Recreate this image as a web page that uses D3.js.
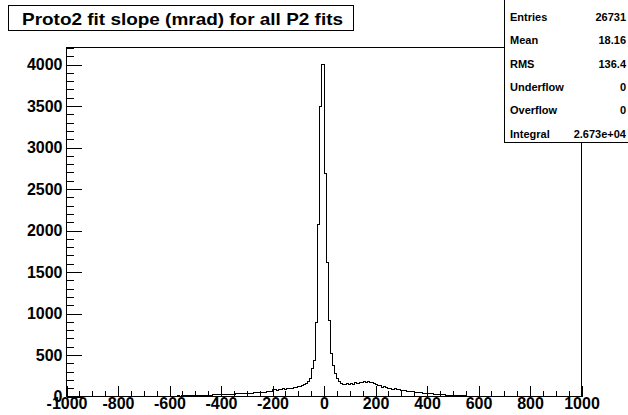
<!DOCTYPE html>
<html>
<head>
<meta charset="utf-8">
<script src="https://cdn.jsdelivr.net/npm/d3@7"></script>
<style>
    html, body { margin: 0; padding: 0; background: #fff; }
    svg { display: block; }
    text { font-family: "Liberation Sans", Arial, Helvetica, sans-serif; font-weight: bold; fill: #000; }
</style>
</head>
<body>
<svg id="main-svg" width="628" height="415"></svg>
<script>
// histogram binning: 250 bins of 8 mrad between -1000 and 1000
let BIN_LOW = -1000;
let BIN_WIDTH = 8;

// bin contents, 10 bins per line (8 mrad each)
let binCounts = [
    0, 0, 1, 0, 0, 0, 1, 0, 0, 1,             // -1000 .. -920
    0, 1, 0, 0, 1, 0, 0, 1, 0, 1,             // -920 .. -840
    1, 0, 1, 1, 0, 1, 2, 0, 1, 1,             // -840 .. -760
    2, 1, 1, 2, 1, 2, 1, 3, 2, 2,             // -760 .. -680
    2, 3, 2, 3, 4, 3, 3, 4, 5, 4,             // -680 .. -600
    5, 4, 6, 5, 7, 6, 8, 7, 9, 8,             // -600 .. -520
    10, 9, 11, 12, 11, 13, 14, 16, 15, 17,    // -520 .. -440
    18, 20, 19, 22, 21, 24, 26, 25, 28, 27,   // -440 .. -360
    30, 29, 32, 34, 33, 36, 35, 38, 40, 39,   // -360 .. -280
    42, 45, 44, 48, 50, 49, 53, 56, 55, 60,   // -280 .. -200
    80, 82, 78, 84, 86, 92, 90, 96, 94, 100,  // -200 .. -120
    104, 110, 116, 124, 132, 145, 160, 185, 215, 337,     // -120 .. -40
    434, 895, 2072, 3494, 4005, 2687, 1618, 915, 518, 373, // -40 .. 40
    277, 217, 185, 160, 150, 146, 158, 150, 156, 148,     // 40 .. 120
    164, 160, 172, 168, 180, 172, 178, 166, 170, 152,     // 120 .. 200
    140, 128, 130, 114, 116, 104, 98, 94, 90, 92,         // 200 .. 280
    84, 80, 76, 72, 70, 66, 62, 60, 56, 54,   // 280 .. 360
    50, 48, 46, 42, 40, 38, 35, 33, 30, 28,   // 360 .. 440
    26, 24, 22, 19, 18, 16, 14, 12, 11, 10,   // 440 .. 520
    9, 8, 8, 7, 6, 6, 5, 5, 4, 4,             // 520 .. 600
    4, 3, 3, 4, 3, 2, 3, 2, 2, 3,             // 600 .. 680
    2, 2, 1, 2, 1, 2, 1, 1, 2, 1,             // 680 .. 760
    1, 1, 0, 1, 1, 0, 1, 1, 0, 1,             // 760 .. 840
    0, 1, 0, 1, 0, 0, 1, 0, 0, 1,             // 840 .. 920
    0, 0, 1, 0, 0, 0, 1, 0, 0, 0              // 920 .. 1000
];

let xMajorTicks = [-1000, -800, -600, -400, -200, 0, 200, 400, 600, 800, 1000];
let xMinorTicks = d3.range(-1000, 1001, 50);
let yMajorTicks = [0, 500, 1000, 1500, 2000, 2500, 3000, 3500, 4000];
let yMinorTicks = d3.range(0, 4201, 100);

let TITLE = 'Proto2 fit slope (mrad) for all P2 fits';
let statLabels = ['Entries', 'Mean', 'RMS', 'Underflow', 'Overflow', 'Integral'];
let statValues = ['26731', '18.16', '136.4', '0', '0', '2.673e+04'];

let FRAME = { left: 66, right: 581, top: 47, bottom: 396 };
let LABEL_SIZE = 16;

let svg = d3.select('#main-svg');

let x = d3.scaleLinear().domain([-1000, 1000]).range([FRAME.left, FRAME.right]);
let y = d3.scaleLinear().domain([0, 4205]).range([FRAME.bottom, FRAME.top]);

// plain integer labels with an ascii hyphen, like ROOT
let plain = d => String(d);

// histogram outline as a step path
let path = d3.path();
binCounts.forEach((c, i) => {
    let x0 = Math.round(x(BIN_LOW + i * BIN_WIDTH)) + 0.5;
    let x1 = Math.round(x(BIN_LOW + (i + 1) * BIN_WIDTH)) + 0.5;
    let yy = Math.round(y(c)) + 0.5;
    if (i === 0) path.moveTo(x0, yy); else path.lineTo(x0, yy);
    path.lineTo(x1, yy);
});
svg.append('path')
    .attr('d', path.toString())
    .attr('fill', 'none')
    .attr('stroke', '#000')
    .attr('stroke-width', 1)
    .attr('shape-rendering', 'crispEdges');

// x axis: minor ticks then major ticks with labels
let xMinor = d3.axisBottom(x).tickValues(xMinorTicks).tickSize(-5.5).tickSizeOuter(0).tickFormat('');
let xMajor = d3.axisBottom(x).tickValues(xMajorTicks).tickSize(-10.5).tickSizeOuter(0).tickPadding(1).tickFormat(plain);
let xg1 = svg.append('g').attr('transform', `translate(0.5,${FRAME.bottom + 0.5})`).call(xMinor);
let xg2 = svg.append('g').attr('transform', `translate(0.5,${FRAME.bottom + 0.5})`).call(xMajor);

// y axis
let yMinor = d3.axisLeft(y).tickValues(yMinorTicks).tickSize(-7.5).tickSizeOuter(0).tickFormat('');
let yMajor = d3.axisLeft(y).tickValues(yMajorTicks).tickSize(-15).tickSizeOuter(0).tickPadding(4).tickFormat(plain);
let yg1 = svg.append('g').attr('transform', `translate(${FRAME.left + 0.5},0.5)`).call(yMinor);
let yg2 = svg.append('g').attr('transform', `translate(${FRAME.left + 0.5},0.5)`).call(yMajor);

[xg1, xg2, yg1, yg2].forEach(g => {
    g.select('.domain').remove();
    g.selectAll('line').attr('stroke', '#000').attr('shape-rendering', 'crispEdges');
    g.selectAll('text')
        .attr('font-family', '"Liberation Sans", Arial, Helvetica, sans-serif')
        .attr('font-weight', 'bold')
        .attr('font-size', LABEL_SIZE)
        .attr('fill', '#000');
});

// frame
svg.append('rect')
    .attr('x', FRAME.left + 0.5)
    .attr('y', FRAME.top + 0.5)
    .attr('width', FRAME.right - FRAME.left)
    .attr('height', FRAME.bottom - FRAME.top)
    .attr('fill', 'none')
    .attr('stroke', '#000')
    .attr('shape-rendering', 'crispEdges');

// title box
svg.append('rect')
    .attr('x', 8.5).attr('y', 5.5)
    .attr('width', 345).attr('height', 25)
    .attr('fill', '#fff').attr('stroke', '#000')
    .attr('shape-rendering', 'crispEdges');
svg.append('text')
    .attr('x', 22).attr('y', 24.5)
    .attr('font-size', 17)
    .attr('textLength', 321)
    .attr('lengthAdjust', 'spacingAndGlyphs')
    .text(TITLE);

// stats box
svg.append('rect')
    .attr('x', 504.5).attr('y', -1)
    .attr('width', 130).attr('height', 143.5)
    .attr('fill', '#fff').attr('stroke', '#000')
    .attr('shape-rendering', 'crispEdges');
let statY = d3.scalePoint().domain(statLabels).range([17, 134]);
let rows = svg.selectAll('g.stat').data(statLabels).enter().append('g').attr('class', 'stat');
rows.append('text')
    .attr('x', 510)
    .attr('y', d => statY(d))
    .attr('dy', '0.35em')
    .attr('font-size', 11)
    .text(d => d);
rows.append('text')
    .attr('x', 626)
    .attr('y', d => statY(d))
    .attr('dy', '0.35em')
    .attr('text-anchor', 'end')
    .attr('font-size', 11)
    .text((d, i) => statValues[i]);
</script>
</body>
</html>
